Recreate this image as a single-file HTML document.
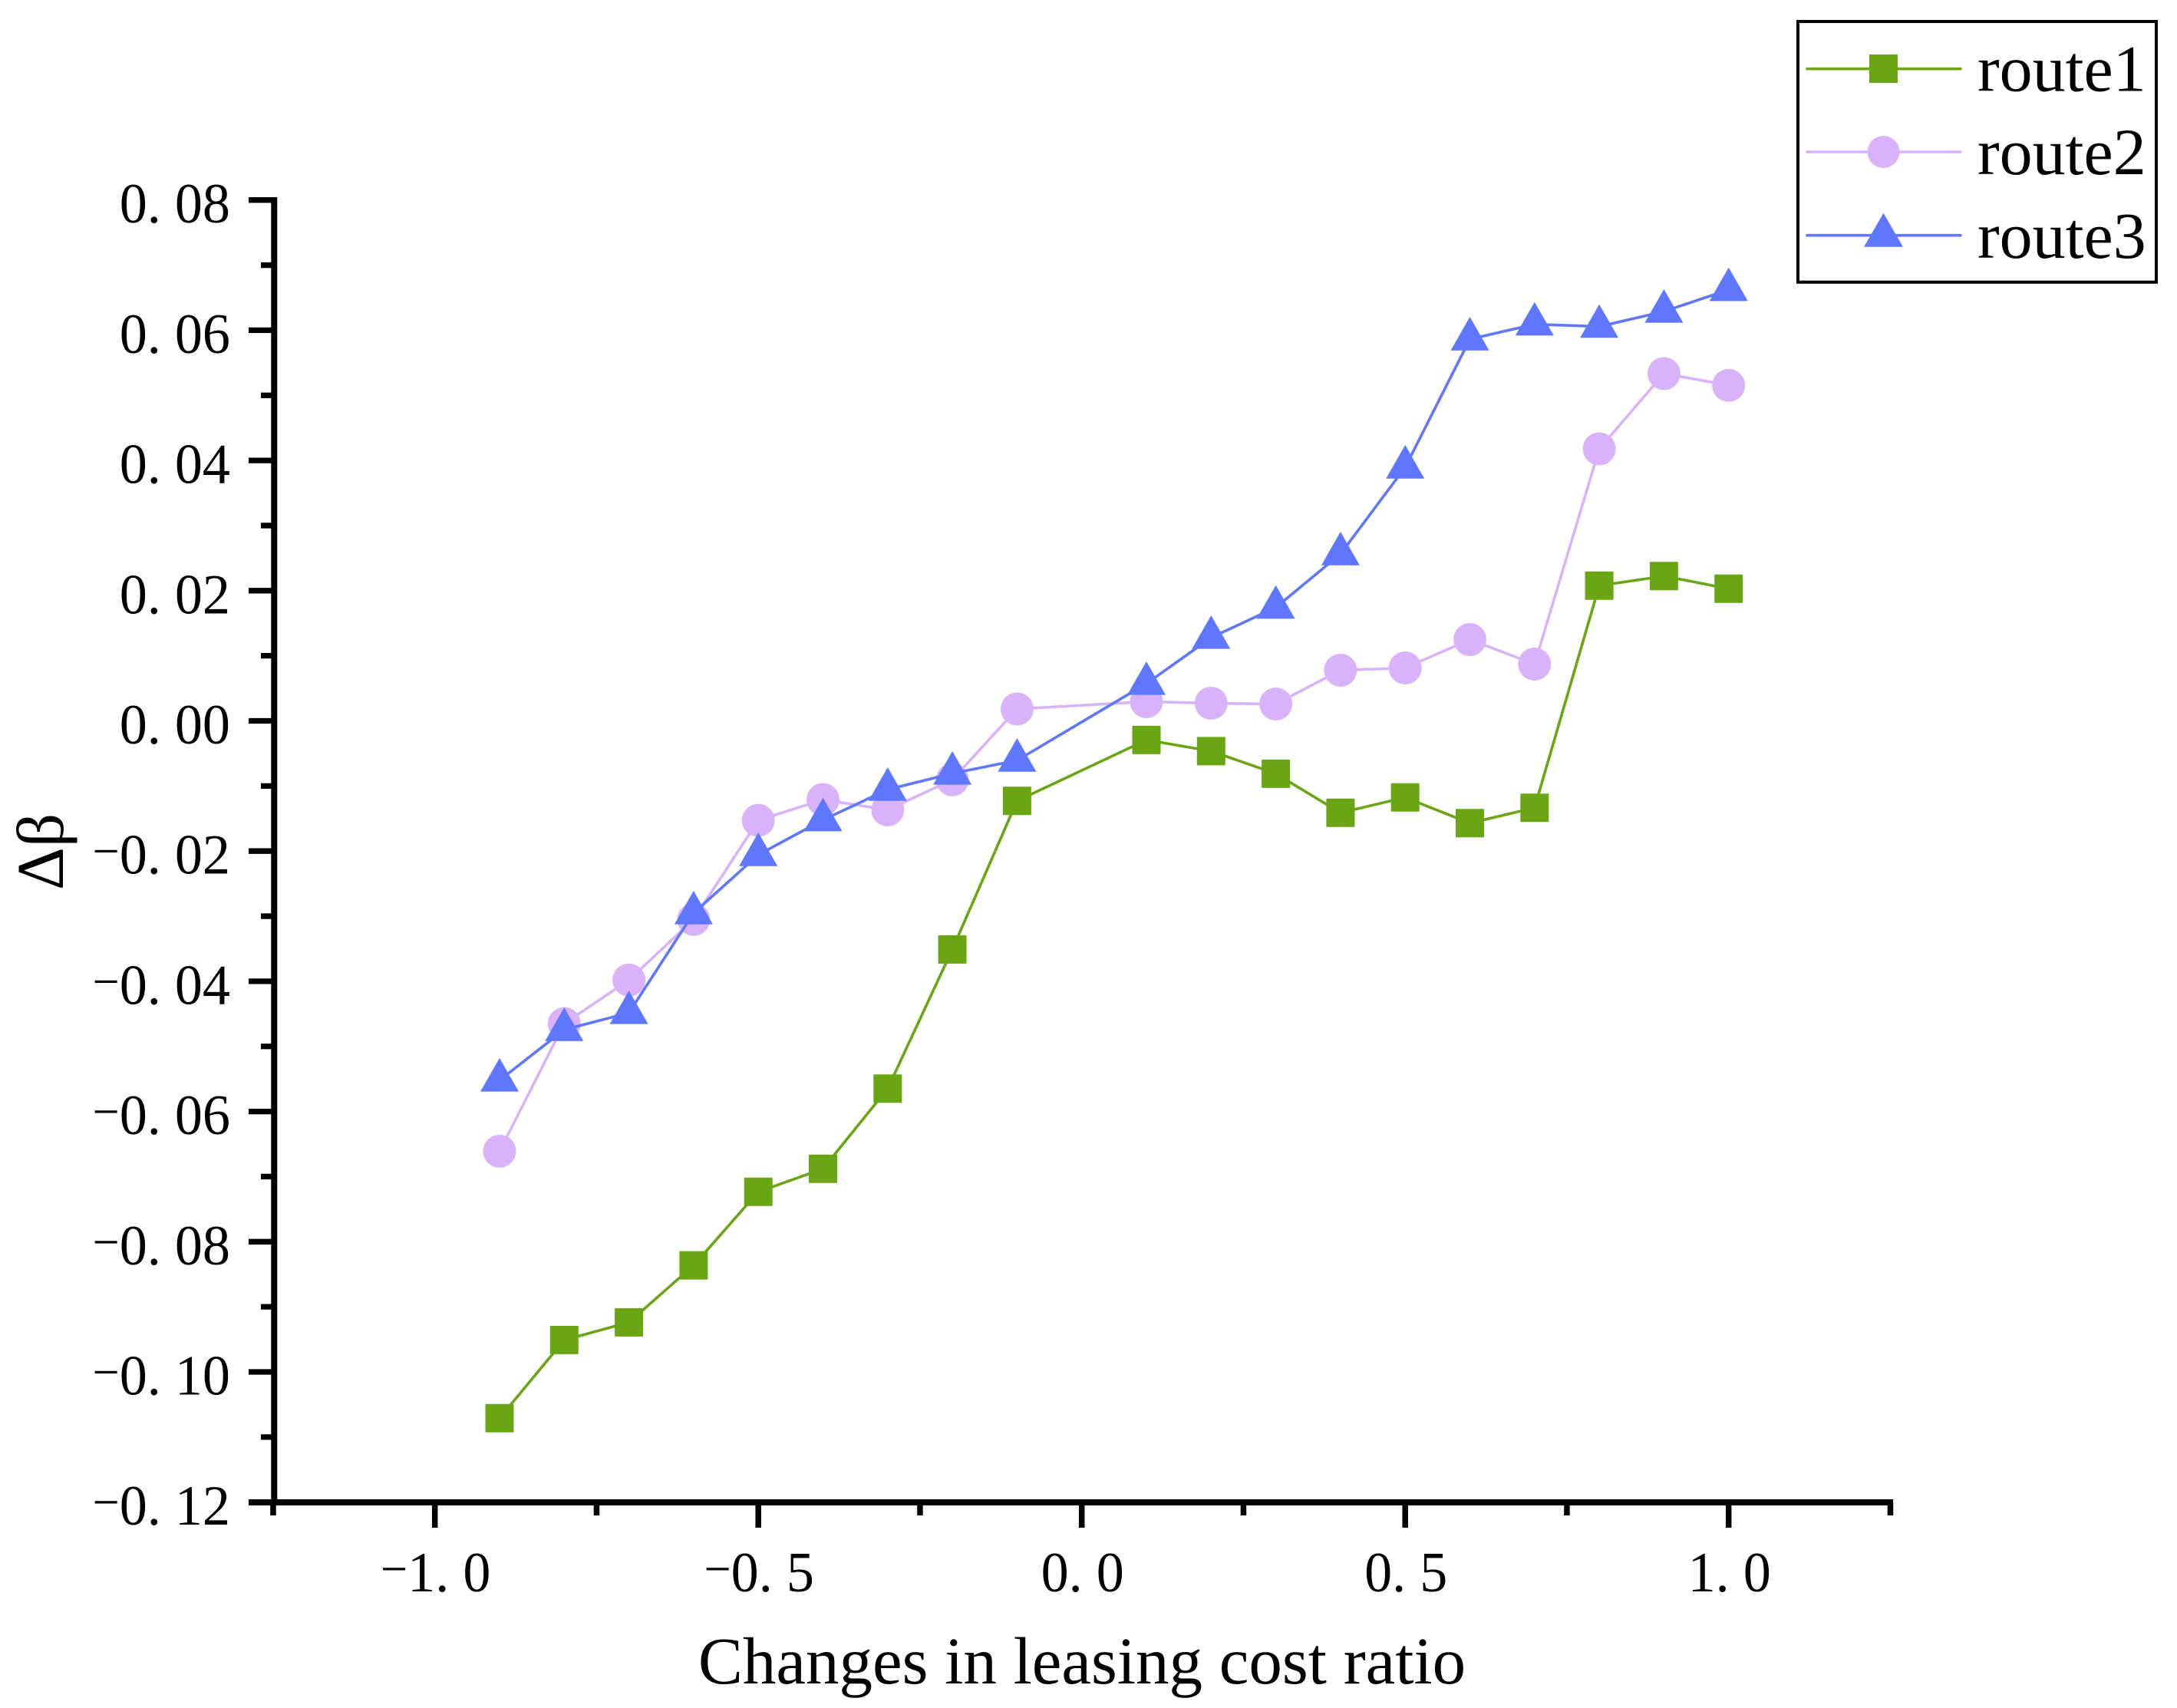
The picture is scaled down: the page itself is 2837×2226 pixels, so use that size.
<!DOCTYPE html>
<html>
<head>
<meta charset="utf-8">
<title>Changes in leasing cost ratio</title>
<style>
html,body{margin:0;padding:0;background:#fff;}
svg{display:block;}
text{font-family:"Liberation Serif","Noto Serif CJK SC",serif;fill:#000;}
</style>
</head>
<body>
<svg id="chart" xmlns="http://www.w3.org/2000/svg" width="2837" height="2226" viewBox="0 0 2837 2226">
<rect x="0" y="0" width="2837" height="2226" fill="#ffffff"/>
<g id="series-layer"></g>
<g id="axis-layer"></g>
<text x="1410" y="2194" font-size="87" text-anchor="middle">Changes in leasing cost ratio</text>
<text transform="translate(82 1110) rotate(-90)" font-size="87" text-anchor="middle">Δβ</text>
<g>
<rect x="2343" y="28" width="467" height="339.7" fill="#ffffff" stroke="#000" stroke-width="4"/>
<g>
<line x1="2355" y1="89.7" x2="2555" y2="89.7" stroke="#6aa514" stroke-width="3.6" stroke-linecap="round"/>
<rect x="2436" y="71" width="37" height="37" fill="#6aa514"/>
<text x="2577" y="118.7" font-size="86">route1</text>
</g>
<g>
<line x1="2355" y1="198" x2="2555" y2="198" stroke="#d8b3fc" stroke-width="3.6" stroke-linecap="round"/>
<circle cx="2454.5" cy="198" r="21" fill="#d8b3fc"/>
<text x="2577" y="227" font-size="86">route2</text>
</g>
<g>
<line x1="2355" y1="306.7" x2="2555" y2="306.7" stroke="#5f76ff" stroke-width="3.6" stroke-linecap="round"/>
<polygon points="2454.5,277.7 2480,321.7 2429,321.7" fill="#5f76ff"/>
<text x="2577" y="336" font-size="86">route3</text>
</g>
</g>
</svg>
<script>
const categories = [-0.9, -0.8, -0.7, -0.6, -0.5, -0.4, -0.3, -0.2, -0.1, 0.1, 0.2, 0.3, 0.4, 0.5, 0.6, 0.7, 0.8, 0.9, 1.0];
const route1Values = [-0.1071, -0.0951, -0.09238, -0.08364, -0.07234, -0.0688, -0.05648, -0.0351, -0.01229, -0.00293, -0.00464, -0.00811, -0.01412, -0.01176, -0.01571, -0.01335, 0.02077, 0.02224, 0.0203];
const route2Values = [-0.0661, -0.0465, -0.0398, -0.0305, -0.01528, -0.0121, -0.01367, -0.00904, 0.00183, 0.00295, 0.00271, 0.00259, 0.00778, 0.00813, 0.01249, 0.00872, 0.04178, 0.05335, 0.05154];
const route3Values = [-0.0552, -0.04744, -0.04484, -0.02952, -0.02057, -0.01522, -0.01055, -0.00807, -0.00607, 0.00572, 0.01279, 0.01742, 0.02563, 0.03895, 0.05863, 0.06092, 0.06057, 0.06288, 0.06622];
const yMajorTicks = [0.08, 0.06, 0.04, 0.02, 0, -0.02, -0.04, -0.06, -0.08, -0.10, -0.12];
const yTickLabels = ["0. 08", "0. 06", "0. 04", "0. 02", "0. 00", "−0. 02", "−0. 04", "−0. 06", "−0. 08", "−0. 10", "−0. 12"];
const yMinorTicks = [0.07, 0.05, 0.03, 0.01, -0.01, -0.03, -0.05, -0.07, -0.09, -0.11];
const xMajorTicks = [-1, -0.5, 0, 0.5, 1];
const xTickLabels = ["−1. 0", "−0. 5", "0. 0", "0. 5", "1. 0"];
const xMinorTicks = [-1.25, -0.75, -0.25, 0.25, 0.75, 1.25];

const NS = 'http://www.w3.org/2000/svg';
function xScale(v) { return 1409.7 + 843 * v; }
function yScale(v) { return 939.5 - 8485 * v; }
function make(tag, attrs, parent) {
  const el = document.createElementNS(NS, tag);
  for (const k in attrs) el.setAttribute(k, attrs[k]);
  parent.appendChild(el);
  return el;
}

const axisLayer = document.getElementById('axis-layer');
const seriesLayer = document.getElementById('series-layer');

function drawSeries(name, values, color, shape) {
  const group = make('g', {}, seriesLayer);
  
  
  const pts = values.map(function (v, i) { return xScale(categories[i]) + ',' + yScale(v); }).join(' ');
  const line = make('polyline', { points: pts, fill: 'none', stroke: color, 'stroke-width': 3.6, 'stroke-linejoin': 'round' }, group);
  
  
  values.forEach(function (v, i) {
    const cx = xScale(categories[i]);
    const cy = yScale(v);
    let mark;
    if (shape === 'square') {
      mark = make('rect', { x: cx - 18.5, y: cy - 18.5, width: 37, height: 37, rx: 1, fill: color }, group);
    } else if (shape === 'circle') {
      mark = make('circle', { cx: cx, cy: cy, r: 21.5, fill: color }, group);
    } else {
      mark = make('polygon', { points: cx + ',' + (cy - 29) + ' ' + (cx + 25) + ',' + (cy + 14.7) + ' ' + (cx - 25) + ',' + (cy + 14.7), fill: color }, group);
    }
    
    
  });
}
drawSeries('route1', route1Values, '#6aa514', 'square');
drawSeries('route2', route2Values, '#d8b3fc', 'circle');
drawSeries('route3', route3Values, '#5f76ff', 'triangle');

function tickLabel(str, x, y, anchor, parent) {
  const t = make('text', { x: 0, y: 0, 'font-size': 74, 'text-anchor': anchor, transform: 'translate(' + x + ' ' + y + ') scale(0.975 1)' }, parent);
  t.setAttribute('xml:space', 'preserve');
  if (str.charAt(0) === '−') {
    const a = make('tspan', { dy: -8, 'font-size': 64 }, t);
    a.textContent = '−';
    const b = make('tspan', { dy: 8 }, t);
    b.textContent = str.slice(1);
  } else {
    t.textContent = str;
  }
  return t;
}

yMinorTicks.forEach(function (v) {
  const tick = make('line', { x1: 340, x2: 358, y1: yScale(v), y2: yScale(v), stroke: '#000', 'stroke-width': 7.3 }, axisLayer);
  
  
});
yMajorTicks.forEach(function (v, i) {
  const tick = make('line', { x1: 324, x2: 358, y1: yScale(v), y2: yScale(v), stroke: '#000', 'stroke-width': 7.3 }, axisLayer);
  
  
  const lab = tickLabel(yTickLabels[i], 300, yScale(v) + 29.5, 'end', axisLayer);
  
  
});
xMinorTicks.forEach(function (v) {
  const tick = make('line', { x1: xScale(v), x2: xScale(v), y1: 1958, y2: 1975, stroke: '#000', 'stroke-width': 7.5 }, axisLayer);
  
  
});
xMajorTicks.forEach(function (v, i) {
  const tick = make('line', { x1: xScale(v), x2: xScale(v), y1: 1958, y2: 1991, stroke: '#000', 'stroke-width': 7.5 }, axisLayer);
  
  
  const lab = tickLabel(xTickLabels[i], xScale(v) + 1, 2074, 'middle', axisLayer);
  
  
});

const yAxisLine = make('line', { x1: 357.3, x2: 357.3, y1: 257, y2: 1962, stroke: '#000', 'stroke-width': 8 }, axisLayer);


const xAxisLine = make('line', { x1: 324, x2: 2467, y1: 1958, y2: 1958, stroke: '#000', 'stroke-width': 8 }, axisLayer);


</script>
</body>
</html>
